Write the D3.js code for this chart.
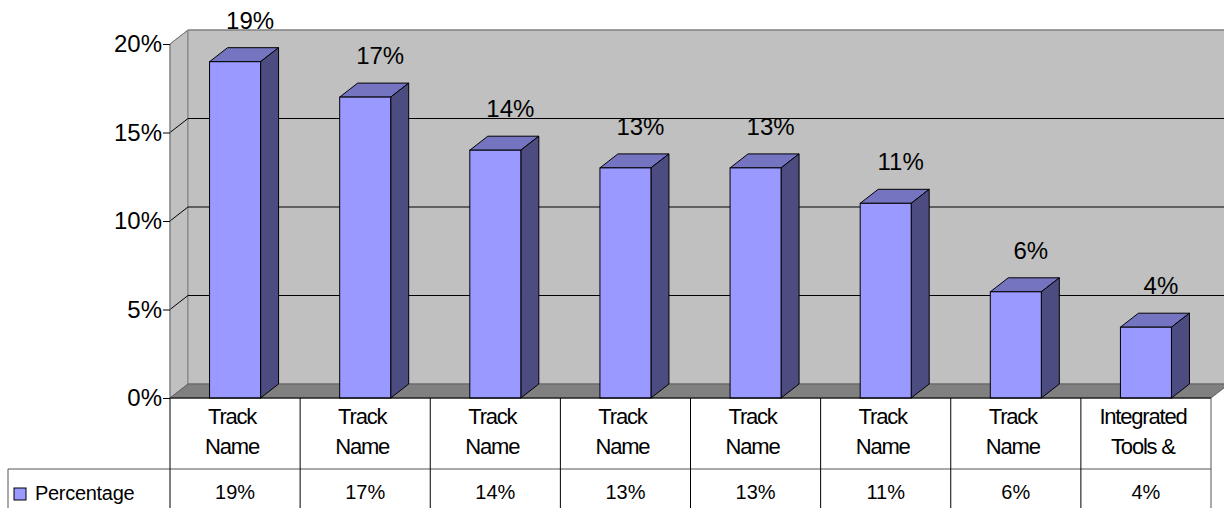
<!DOCTYPE html>
<html lang="en">
<head>
<meta charset="UTF-8">
<title>Percentage by track</title>
<script src="https://cdn.jsdelivr.net/npm/d3@7"></script>
<style>
  body { margin: 0; background: #fff; }
  svg { display: block; font-family: "Liberation Sans", Arial, sans-serif; }
  .cat { font-size: 22px; letter-spacing: -1.2px; }
  .val { font-size: 20px; }
</style>
</head>
<body>
<svg id="chart" width="1224" height="508"></svg>
<script>
// data
var categories = ["Track Name", "Track Name", "Track Name", "Track Name", "Track Name", "Track Name", "Track Name", "Integrated Tools &"];
var catLines = [["Track", "Name"], ["Track", "Name"], ["Track", "Name"], ["Track", "Name"], ["Track", "Name"], ["Track", "Name"], ["Track", "Name"], ["Integrated", "Tools &"]];
var values = [19, 17, 14, 13, 13, 11, 6, 4];
var yTicks = [0, 5, 10, 15, 20];
var seriesName = "Percentage";

var svg = d3.select("#chart");
var plotLeft = 170, plotRight = 1211, plotTop = 44, base = 398;
var dx = 18, dy = -14;   // depth offset for the 3d look

var ids = categories.map(function(d, i) { return i; });
var x = d3.scaleBand().domain(ids).range([plotLeft, plotRight]).paddingInner(0.608).paddingOuter(0.304);
var col = d3.scaleBand().domain(ids).range([plotLeft, plotRight]);
var y = d3.scaleLinear().domain([0, 20]).range([base, plotTop]);

// side wall
svg.append("polygon")
    .attr("points", [[plotLeft, plotTop], [plotLeft + dx, plotTop + dy], [plotLeft + dx, base + dy], [plotLeft, base]].join(" "))
    .attr("fill", "#c0c0c0").attr("stroke", "#808080");
// back wall
svg.append("polygon")
    .attr("points", [[plotLeft + dx, plotTop + dy], [plotRight + dx, plotTop + dy], [plotRight + dx, base + dy], [plotLeft + dx, base + dy]].join(" "))
    .attr("fill", "#c0c0c0").attr("stroke", "#808080");

// gridlines: back wall + side wall diagonals
yTicks.forEach(function(t) {
  if (t === 0) return;
  svg.append("line")
      .attr("x1", plotLeft + dx).attr("x2", plotRight + dx)
      .attr("y1", y(t) + dy).attr("y2", y(t) + dy)
      .attr("stroke", t === 20 ? "#808080" : "#000").attr("stroke-width", 1);
  svg.append("line")
      .attr("x1", plotLeft).attr("x2", plotLeft + dx)
      .attr("y1", y(t)).attr("y2", y(t) + dy)
      .attr("stroke", t === 20 ? "#808080" : "#000").attr("stroke-width", 1);
});

// floor
svg.append("polygon")
    .attr("points", [[plotLeft, base], [plotLeft + dx, base + dy], [plotRight + dx, base + dy], [plotRight, base]].join(" "))
    .attr("fill", "#808080").attr("stroke", "#606060");

// axis
svg.append("line")
    .attr("x1", plotLeft).attr("x2", plotLeft).attr("y1", plotTop).attr("y2", base)
    .attr("stroke", "#808080");
var yAxis = svg.append("g")
    .attr("transform", "translate(" + plotLeft + ",0)")
    .call(d3.axisLeft(y).tickValues(yTicks).tickSize(7).tickPadding(1).tickFormat(function(d) { return d + "%"; }));
yAxis.select(".domain").remove();
yAxis.selectAll("text").attr("font-size", "24px").attr("fill", "#000").attr("font-family", "Liberation Sans, Arial, sans-serif");
yAxis.selectAll("line").attr("stroke", "#000");

// bars
var bw = x.bandwidth();
var bars = svg.selectAll("g.bar").data(values).enter().append("g").attr("class", "bar");
bars.append("polygon")   // top
    .attr("points", function(d, i) {
      var x0 = x(i), yt = y(d);
      return [[x0, yt], [x0 + dx, yt + dy], [x0 + bw + dx, yt + dy], [x0 + bw, yt]].join(" ");
    })
    .attr("fill", "#7474c0").attr("stroke", "#000");
bars.append("polygon")   // side
    .attr("points", function(d, i) {
      var x1 = x(i) + bw, yt = y(d);
      return [[x1, yt], [x1 + dx, yt + dy], [x1 + dx, base + dy], [x1, base]].join(" ");
    })
    .attr("fill", "#4c4c80").attr("stroke", "#000");
bars.append("rect")      // front
    .attr("x", function(d, i) { return x(i); })
    .attr("y", function(d) { return y(d); })
    .attr("width", bw)
    .attr("height", function(d) { return base - y(d); })
    .attr("fill", "#9999ff").attr("stroke", "#000");

// value labels above bars
bars.append("text")
    .attr("x", function(d, i) { return x(i) + bw / 2 + dx - 3; })
    .attr("y", function(d) { return y(d) + dy - 19; })
    .attr("text-anchor", "middle")
    .attr("font-size", "24px")
    .text(function(d) { return d + "%"; });

// front baseline
svg.append("line")
    .attr("x1", plotLeft).attr("x2", plotRight).attr("y1", base).attr("y2", base)
    .attr("stroke", "#000");

// data table
var rowY = 469, bottom = 508;
svg.append("line").attr("x1", 8).attr("x2", plotRight).attr("y1", rowY).attr("y2", rowY).attr("stroke", "#555");
svg.append("line").attr("x1", 8).attr("x2", 8).attr("y1", rowY).attr("y2", bottom).attr("stroke", "#555");
ids.concat([ids.length]).forEach(function(i) {
  var xx = i < ids.length ? col(i) : plotRight;
  svg.append("line").attr("x1", xx).attr("x2", xx).attr("y1", base).attr("y2", bottom)
      .attr("stroke", i < ids.length ? "#000" : "#555");
});

svg.selectAll("text.cat").data(catLines).enter().append("text")
    .attr("class", "cat")
    .attr("text-anchor", "middle")
    .attr("x", function(d, i) { return col(i) + col.bandwidth() / 2 - 3; })
    .attr("y", 424)
    .each(function(d) {
      var t = d3.select(this);
      d.forEach(function(line, k) {
        t.append("tspan")
            .attr("x", t.attr("x"))
            .attr("dy", k === 0 ? 0 : 30)
            .text(line);
      });
    });

svg.selectAll("text.val").data(values).enter().append("text")
    .attr("class", "val")
    .attr("text-anchor", "middle")
    .attr("x", function(d, i) { return col(i) + col.bandwidth() / 2; })
    .attr("y", 499)
    .text(function(d) { return d + "%"; });

// legend key
svg.append("rect").attr("x", 14).attr("y", 488).attr("width", 12).attr("height", 12)
    .attr("fill", "#9999ff").attr("stroke", "#000");
svg.append("text").attr("x", 35).attr("y", 500).attr("font-size", "20px").attr("letter-spacing", "-0.3px")
    .text(seriesName);
</script>
</body>
</html>
